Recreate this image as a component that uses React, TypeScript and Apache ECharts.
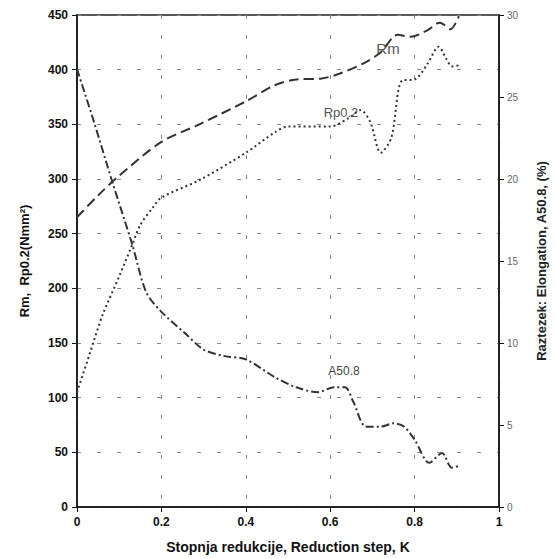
import React, { useEffect, useRef } from "react";
import * as echarts from "echarts";

const rmX = [0, 0.05, 0.1, 0.2, 0.29, 0.4, 0.47, 0.52, 0.58, 0.62, 0.68, 0.72, 0.76, 0.79, 0.83, 0.86, 0.885, 0.905];
const rmY = [265, 285, 303, 334, 350, 371, 386, 391, 392, 396, 406, 416, 432, 430, 436, 443, 437, 449];

const rpX = [0, 0.03, 0.06, 0.1, 0.131, 0.15, 0.18, 0.2, 0.29, 0.4, 0.47, 0.5, 0.6, 0.645, 0.672, 0.695, 0.72, 0.745, 0.77, 0.8, 0.83, 0.857, 0.875, 0.888, 0.905];
const rpY = [105, 140, 175, 211, 240, 258, 274, 283, 299, 324, 343, 348, 348, 356, 363, 352, 324, 338, 390, 391, 405, 421, 410, 403, 404];

const aX = [0, 0.04, 0.084, 0.131, 0.164, 0.2, 0.26, 0.3, 0.35, 0.4, 0.47, 0.52, 0.57, 0.61, 0.635, 0.655, 0.685, 0.72, 0.75, 0.775, 0.8, 0.835, 0.865, 0.888, 0.905];
const aY = [26.7, 23.5, 19.8, 16.0, 13.1, 11.9, 10.5, 9.6, 9.2, 9.0, 7.9, 7.3, 7.0, 7.3, 7.3, 6.4, 4.9, 4.9, 5.1, 4.9, 4.1, 2.7, 3.3, 2.4, 2.5];

const xTitle = "Stopnja redukcije, Reduction step, K";
const yLeftTitle = "Rm,  Rp0.2(Nmm²)";
const yRightTitle = "Raztezek: Elongation, A50.8, (%)";

const zip = (xs: number[], ys: number[]) => xs.map((x, i) => [x, ys[i]]);

export default function App() {
  const ref = useRef<HTMLDivElement>(null);
  useEffect(() => {
    if (!ref.current) return;
    const chart = echarts.init(ref.current, undefined, { renderer: "svg" });
    const font = "Liberation Sans, Arial, sans-serif";
    const gridLine = { show: true, lineStyle: { color: "#888", type: [4, 16] as any, width: 1 } };
    chart.setOption({
      animation: false,
      backgroundColor: "#fff",
      grid: { left: 77, right: 52, top: 15, bottom: 51, show: true, borderColor: "#222", borderWidth: 1.5 },
      xAxis: {
        type: "value",
        min: 0,
        max: 1,
        interval: 0.2,
        name: xTitle,
        nameLocation: "middle",
        nameGap: 33,
        nameTextStyle: { fontFamily: font, fontWeight: "bold", fontSize: 14, color: "#111" },
        axisLine: { lineStyle: { color: "#111", width: 1.5 } },
        axisTick: { inside: false, length: 5, lineStyle: { color: "#111" } },
        axisLabel: { fontFamily: font, fontWeight: "bold", fontSize: 12, color: "#111", margin: 9 },
        splitLine: gridLine,
      },
      yAxis: [
        {
          type: "value",
          min: 0,
          max: 450,
          interval: 50,
          name: yLeftTitle,
          nameLocation: "middle",
          nameGap: 46,
          nameTextStyle: { fontFamily: font, fontWeight: "bold", fontSize: 13, color: "#111" },
          axisLine: { show: true, lineStyle: { color: "#111", width: 1.5 } },
          axisTick: { show: true, inside: false, length: 5, lineStyle: { color: "#111" } },
          axisLabel: { fontFamily: font, fontWeight: "bold", fontSize: 12, color: "#111", margin: 9 },
          splitLine: gridLine,
        },
        {
          type: "value",
          min: 0,
          max: 30,
          interval: 5,
          position: "right",
          name: yRightTitle,
          nameLocation: "middle",
          nameGap: 36,
          nameRotate: 90,
          nameTextStyle: { fontFamily: font, fontWeight: "bold", fontSize: 13, color: "#222" },
          axisLine: { show: true, lineStyle: { color: "#111", width: 1.5 } },
          axisTick: { show: true, inside: false, length: 5, lineStyle: { color: "#111" } },
          axisLabel: { fontFamily: font, fontSize: 10, color: "#666", margin: 8 },
          splitLine: { show: false },
        },
      ],
      series: [
        {
          type: "line",
          name: "Rm",
          data: zip(rmX, rmY),
          smooth: 0.3,
          showSymbol: false,
          lineStyle: { color: "#333", width: 2, type: [10, 5] as any },
        },
        {
          type: "line",
          name: "Rp0.2",
          data: zip(rpX, rpY),
          smooth: 0.3,
          showSymbol: false,
          lineStyle: { color: "#333", width: 2, type: [2, 3] as any },
        },
        {
          type: "line",
          name: "A50.8",
          yAxisIndex: 1,
          data: zip(aX, aY),
          smooth: 0.3,
          showSymbol: false,
          lineStyle: { color: "#333", width: 2, type: [8, 3, 2, 3] as any },
        },
      ],
      graphic: [
        { type: "text", x: 388, y: 48, style: { text: "Rm", font: "15px Liberation Sans, Arial", fill: "#555", align: "center", verticalAlign: "middle" } },
        { type: "text", x: 341, y: 112, style: { text: "Rp0.2", font: "13px Liberation Sans, Arial", fill: "#555", align: "center", verticalAlign: "middle" } },
        { type: "text", x: 344, y: 371, style: { text: "A50.8", font: "12px Liberation Sans, Arial", fill: "#444", align: "center", verticalAlign: "middle" } },
      ],
    });
    return () => chart.dispose();
  }, []);
  return <div ref={ref} style={{ width: 556, height: 559, position: "absolute", left: 0, top: 0 }} />;
}
